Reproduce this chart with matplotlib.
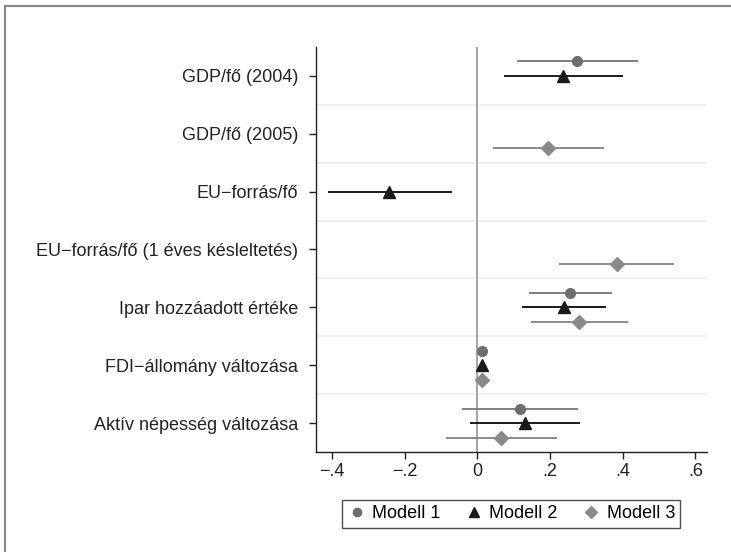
import numpy as np
import matplotlib
matplotlib.use("Agg")
import matplotlib.pyplot as plt
from matplotlib.lines import Line2D

plt.rcParams['font.family'] = ['Liberation Sans', 'DejaVu Sans']

# ── Data ──
labels = ['GDP/fő (2004)', 'GDP/fő (2005)', 'EU\u2212forrás/fő',
          'EU\u2212forrás/fő (1 éves késleltetés)', 'Ipar hozzáadott értéke',
          'FDI\u2212állomány változása', 'Aktív népesség változása']

# Modell 1 (nan = not in model)
m1_est = [0.273, np.nan, np.nan, np.nan, 0.256, 0.014, 0.117]
m1_lo  = [0.110, np.nan, np.nan, np.nan, 0.143, 0.006, -0.041]
m1_hi  = [0.441, np.nan, np.nan, np.nan, 0.370, 0.022, 0.276]

# Modell 2
m2_est = [0.237, np.nan, -0.242, np.nan, 0.239, 0.014, 0.132]
m2_lo  = [0.072, np.nan, -0.410, np.nan, 0.124, 0.006, -0.021]
m2_hi  = [0.400, np.nan, -0.070, np.nan, 0.354, 0.022, 0.283]

# Modell 3
m3_est = [np.nan, 0.195, np.nan, 0.383, 0.281, 0.013, 0.066]
m3_lo  = [np.nan, 0.043, np.nan, 0.225, 0.147, 0.005, -0.085]
m3_hi  = [np.nan, 0.348, np.nan, 0.540, 0.414, 0.021, 0.219]

xticks = [-0.4, -0.2, 0, 0.2, 0.4, 0.6]
xticklabels = ['\u2212.4', '\u2212.2', '0', '.2', '.4', '.6']

models = [
    ('Modell 1', m1_est, m1_lo, m1_hi, -0.25, 'o', '#6e6e6e', '#808080', 7),
    ('Modell 2', m2_est, m2_lo, m2_hi, 0.0, '^', '#1a1a1a', '#1a1a1a', 8),
    ('Modell 3', m3_est, m3_lo, m3_hi, 0.25, 'D', '#8a8a8a', '#8a8a8a', 7),
]

fig = plt.figure(figsize=(7.31, 5.52), dpi=100)
ax = fig.add_axes([0.4323, 0.1812, 0.5349, 0.7337])

ypos = np.arange(1, len(labels) + 1)

# light horizontal separators between categories
for yb in np.arange(1.5, len(labels), 1.0):
    ax.axhline(yb, color='#efefef', lw=1.3, zorder=0)

ax.axvline(0, color='#8c8c8c', lw=1.1, zorder=1)

for name, est, lo, hi, off, mk, mc, lc, ms in models:
    est = np.array(est); lo = np.array(lo); hi = np.array(hi)
    ok = ~np.isnan(est)
    y = ypos[ok] + off
    ax.hlines(y, lo[ok], hi[ok], color=lc, lw=1.4, zorder=2)
    ax.plot(est[ok], y, linestyle='none', marker=mk, color=mc,
            markersize=ms, zorder=3)

ax.set_ylim(len(labels) + 0.5, 0.5)
ax.set_xlim(-0.444, 0.632)
ax.set_yticks(ypos)
ax.set_yticklabels(labels, fontsize=13, color='#222222')
ax.set_xticks(xticks)
ax.set_xticklabels(xticklabels, fontsize=13, color='#222222')
ax.tick_params(direction='out', length=5, width=1, color='#222222')
ax.tick_params(axis='y', pad=8)
ax.tick_params(axis='x', pad=3)

for s in ['top', 'right']:
    ax.spines[s].set_visible(False)
for s in ['left', 'bottom']:
    ax.spines[s].set_color('#222222')
    ax.spines[s].set_linewidth(1)

handles = [Line2D([], [], linestyle='none', marker=m[5], color=m[6],
                  markersize=m[8] - 1, label=m[0]) for m in models]
leg = fig.legend(handles=handles, loc='center', ncol=3,
                 bbox_to_anchor=(0.699, 0.069), frameon=True, fancybox=False,
                 fontsize=13, handletextpad=0.3, columnspacing=1.3,
                 borderpad=0.3, handlelength=1.1)
leg.get_frame().set_edgecolor('#222222')
leg.get_frame().set_linewidth(1)

# outer frame (left and top edges visible)
fig.add_artist(Line2D([0.0075, 0.0075], [0, 0.989], color='#888888', lw=1.5,
                      transform=fig.transFigure))
fig.add_artist(Line2D([0.0075, 1], [0.989, 0.989], color='#888888', lw=1.5,
                      transform=fig.transFigure))

fig.savefig('out.png', dpi=100)
